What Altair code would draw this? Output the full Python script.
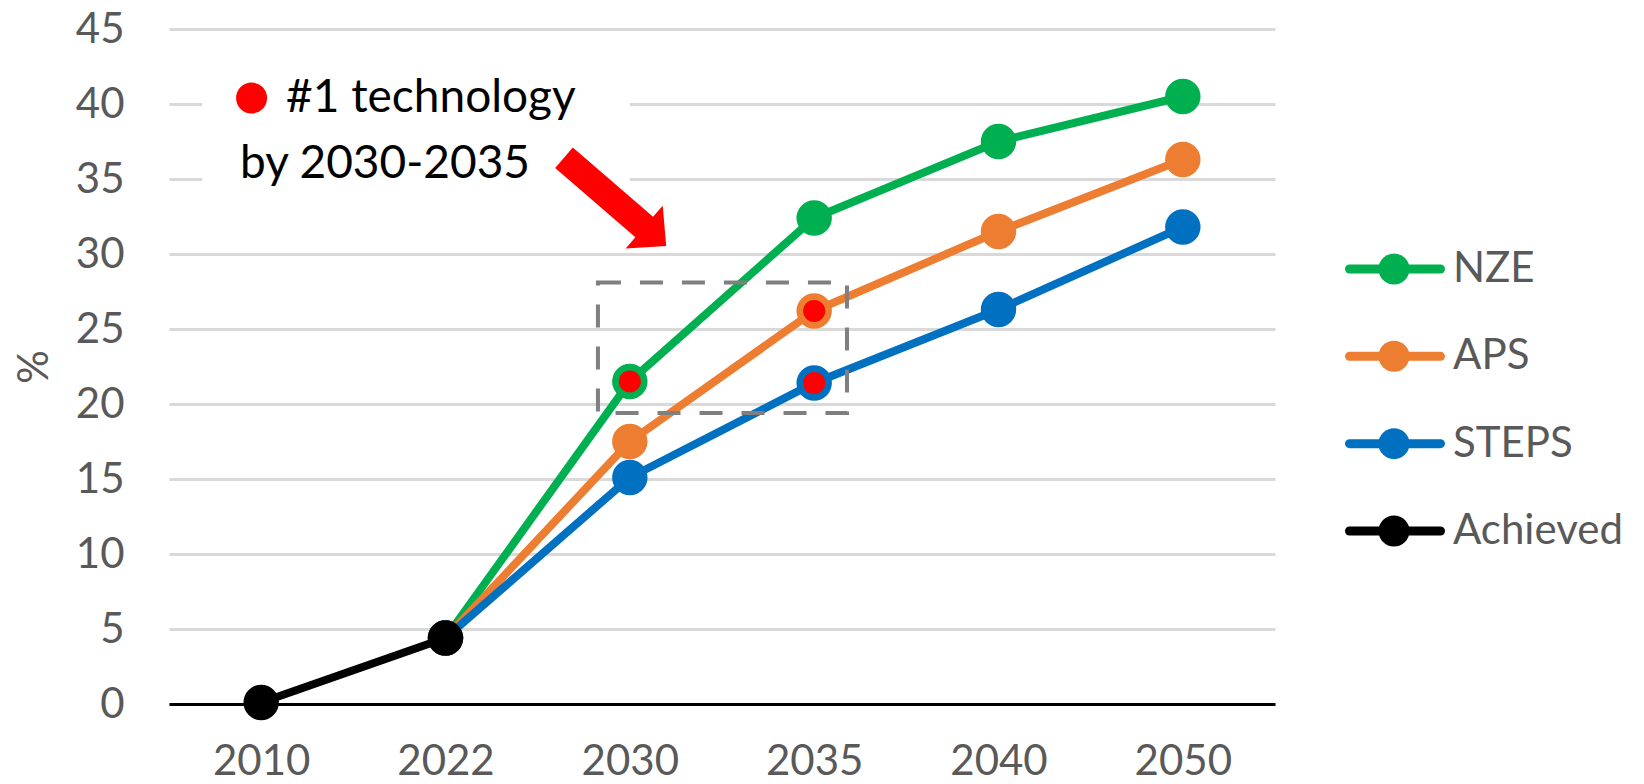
import json
import altair as alt
import pandas as pd

# ---------------- data ----------------
years = ["2010", "2022", "2030", "2035", "2040", "2050"]
series_names = ["NZE", "APS", "STEPS", "Achieved"]
series_colors = ["#00B050", "#ED7D31", "#0070C0", "#000000"]
nze = [None, 4.4, 21.5, 32.4, 37.5, 40.5]
aps = [None, 4.4, 17.5, 26.2, 31.5, 36.3]
steps = [None, 4.4, 15.1, 21.4, 26.3, 31.8]
achieved = [0.1, 4.4, None, None, None, None]
series_values = {"NZE": nze, "APS": aps, "STEPS": steps, "Achieved": achieved}
highlights = [("NZE", "2030"), ("APS", "2035"), ("STEPS", "2035")]
y_ticks = list(range(0, 50, 5))
note_line1 = "#1 technology"
note_line2 = "by 2030-2035"

FONT = "Lato"
GRAY = "#595959"
FS = 42

x_enc = alt.X(
    "idx:Q",
    scale=alt.Scale(domain=[-0.5, 5.5], nice=False, zero=False),
    axis=alt.Axis(
        values=list(range(len(years))),
        labelExpr=json.dumps(years) + "[datum.value]",
        grid=False, ticks=False, domainColor="black", domainWidth=3,
        labelFontSize=FS, labelColor=GRAY, labelFont=FONT, labelPadding=37,
        title=None,
    ),
)
y_enc = alt.Y(
    "v:Q",
    scale=alt.Scale(domain=[0, 45], nice=False),
    axis=alt.Axis(
        values=y_ticks, grid=True, gridColor="#D9D9D9", gridWidth=3,
        domain=False, ticks=False, labelFontSize=FS, labelColor=GRAY,
        labelFont=FONT, labelPadding=45, title="%", titleFontSize=FS,
        titleColor=GRAY, titleFont=FONT, titleFontWeight="normal",
        titlePadding=19,
    ),
)

layers = []

# white box behind the note (hides gridlines)
white_df = pd.DataFrame([{"idx": -0.32, "idx2": 2.0, "v": 31.5, "v2": 43.0}])
layers.append(
    alt.Chart(white_df).mark_rect(color="white").encode(
        x=x_enc, x2="idx2:Q", y=y_enc, y2="v2:Q"
    )
)

# series lines and markers (later series drawn on top)
for name, color in zip(series_names, series_colors):
    vals = series_values[name]
    df = pd.DataFrame(
        [{"idx": i, "v": v, "s": name} for i, v in enumerate(vals) if v is not None]
    )
    layers.append(
        alt.Chart(df).mark_line(strokeWidth=8, color=color).encode(x=x_enc, y=y_enc)
    )
    layers.append(
        alt.Chart(df).mark_circle(size=1257, opacity=1, color=color).encode(
            x=x_enc, y=y_enc
        )
    )

# red highlight dots
hl_df = pd.DataFrame(
    [{"idx": years.index(y), "v": series_values[s][years.index(y)]} for s, y in highlights]
)
layers.append(
    alt.Chart(hl_df).mark_circle(size=490, opacity=1, color="#FF0000").encode(
        x=x_enc, y=y_enc
    )
)

# dashed box around 2030-2035
box_df = pd.DataFrame([{"idx": 1.827, "idx2": 3.178, "v": 19.4, "v2": 28.1}])
layers.append(
    alt.Chart(box_df).mark_rect(
        fill="white", fillOpacity=0, stroke="#7F7F7F", strokeWidth=4,
        strokeDash=[23, 19],
    ).encode(x=x_enc, x2="idx2:Q", y=y_enc, y2="v2:Q")
)

# note: red dot + text
dot_df = pd.DataFrame([{"idx": -0.052, "v": 40.4}])
layers.append(
    alt.Chart(dot_df).mark_circle(size=962, opacity=1, color="#FF0000").encode(
        x=x_enc, y=y_enc
    )
)
txt_df = pd.DataFrame(
    [
        {"idx": 0.135, "v": 39.5, "t": note_line1},
        {"idx": -0.115, "v": 35.07, "t": note_line2},
    ]
)
layers.append(
    alt.Chart(txt_df).mark_text(
        align="left", baseline="alphabetic", fontSize=46, font=FONT, color="black"
    ).encode(x=x_enc, y=y_enc, text="t:N")
)

# red block arrow
arrow_path = "M-1,-0.2 L0.57,-0.2 L0.57,-0.42 L1,0 L0.57,0.42 L0.57,0.2 L-1,0.2 Z"
arr_df = pd.DataFrame([{"idx": 1.92, "v": 33.47}])
layers.append(
    alt.Chart(arr_df).mark_point(
        shape=arrow_path, size=18225, angle=40.8, filled=True, color="#FF0000",
        opacity=1, strokeWidth=0,
    ).encode(x=x_enc, y=y_enc)
)

main = alt.layer(*layers).properties(width=1106, height=675)

# ---------------- custom legend panel ----------------
leg_df = pd.DataFrame(
    [{"row": i, "name": n, "lx0": 74.5, "lx1": 165.5, "cx": 119, "tx": 178}
     for i, n in enumerate(series_names)]
)
lx = alt.Scale(domain=[0, 330], nice=False, zero=False)
ly = alt.Scale(domain=[-2.748, 4.981], nice=False, zero=False, reverse=True)
col = alt.Color("name:N", scale=alt.Scale(domain=series_names, range=series_colors), legend=None)

leg_base = alt.Chart(leg_df)
leg_lines = leg_base.mark_rule(strokeWidth=9, strokeCap="round").encode(
    x=alt.X("lx0:Q", scale=lx, axis=None), x2="lx1:Q",
    y=alt.Y("row:Q", scale=ly, axis=None), color=col,
)
leg_pts = leg_base.mark_circle(size=962, opacity=1).encode(
    x=alt.X("cx:Q", scale=lx, axis=None),
    y=alt.Y("row:Q", scale=ly, axis=None), color=col,
)
leg_txt = leg_base.mark_text(
    align="left", baseline="middle", fontSize=42, font=FONT, color=GRAY
).encode(
    x=alt.X("tx:Q", scale=lx, axis=None),
    y=alt.Y("row:Q", scale=ly, axis=None), text="name:N",
)
legend = alt.layer(leg_lines, leg_pts, leg_txt).properties(width=330, height=675)

chart = (
    alt.hconcat(main, legend, spacing=0)
    .resolve_scale(x="independent", y="independent", color="independent")
    .properties(padding={"left": 5, "top": 0, "right": 5, "bottom": 0})
    .configure_view(stroke=None)
)

chart.save("out.html", embed_options={"renderer": "svg", "actions": False})
